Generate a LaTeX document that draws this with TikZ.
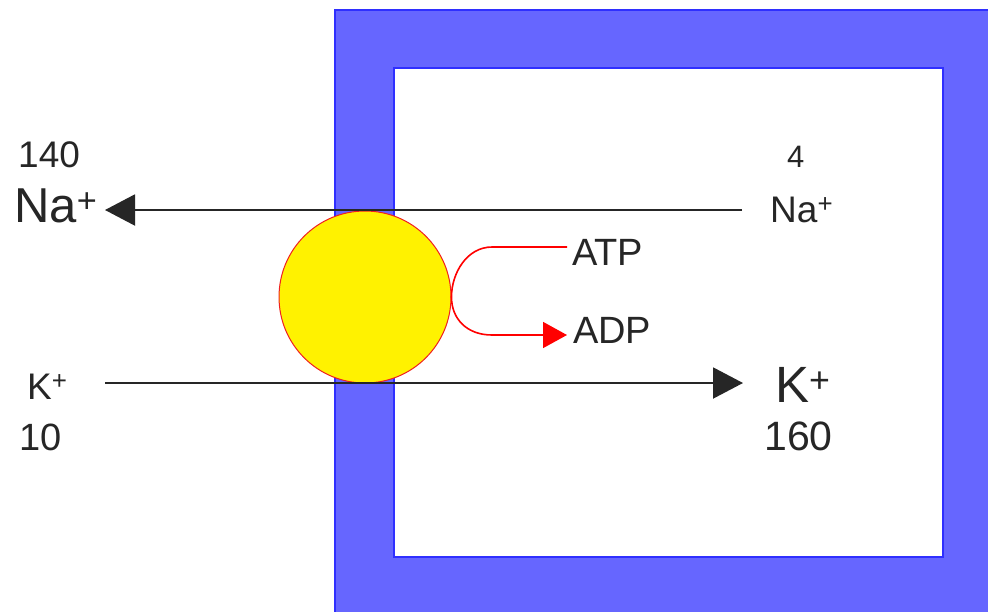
\documentclass[tikz,border=0pt]{standalone}
\usepackage{fontspec}
\setmainfont{Liberation Sans}
\usetikzlibrary{arrows.meta}
\definecolor{bandblue}{HTML}{6666FF}
\definecolor{edgeblue}{HTML}{2F2FFF}
\definecolor{pumpred}{HTML}{F02020}
\begin{document}
\begin{tikzpicture}[x=1pt,y=-1pt,
  lbl/.style={inner sep=0pt,anchor=base west,text=black!85},
  flux/.style={line width=2pt,draw=black!85,-{Triangle[length=30pt,width=31pt]}},
  energy/.style={line width=1.6pt,draw=red,-{Triangle[length=24pt,width=26pt]}},
  fs/.style={font=\fontsize{#1}{#1}\selectfont}]
\useasboundingbox (0,0) rectangle (988,611);
\fill[white] (0,0) rectangle (988,611);
% membrane (cell)
\filldraw[fill=bandblue,draw=edgeblue,line width=1.5pt] (335,10) rectangle (1000,625);
\filldraw[fill=white,draw=edgeblue,line width=1.5pt] (394,68) rectangle (943,557);
% pump
\node[circle,draw=pumpred,line width=1pt,fill=yellow,minimum size=172pt,inner sep=0pt] (pump) at (365,297) {};
% labels
\node[lbl,fs=37] (nao) at (18,167) {140};
\node[lbl,fs=49] (naL) at (14,222) {Na\textsuperscript{+}};
\node[lbl,fs=31] (nai) at (787,167) {4};
\node[lbl,fs=37] (naR) at (770,222) {Na\textsuperscript{+}};
\node[lbl,fs=37] (kL) at (27,399) {K\textsuperscript{+}};
\node[lbl,fs=38] (ko) at (19,450) {10};
\node[lbl,fs=51] (kR) at (775,402) {K\textsuperscript{+}};
\node[lbl,fs=41] (ki) at (764,450) {160};
\node[lbl,fs=38] (atp) at (572,265) {ATP};
\node[lbl,fs=38] (adp) at (573,343) {ADP};
% flux arrows
\coordinate (naStart) at (742,210);
\coordinate (naEnd) at (105,210);
\coordinate (kStart) at (105,383);
\coordinate (kEnd) at (743,383);
\draw[flux] (naStart) -- (naEnd);
\draw[flux] (kStart) -- (kEnd);
% ATP -> ADP
\coordinate (atpEnd) at (567,247);
\coordinate (adpEnd) at (567,335);
\draw[energy] (atpEnd) -- (492,247) .. controls (467,247) and ([yshift=24pt]pump.east) .. (pump.east)
  .. controls ([yshift=-22pt]pump.east) and (467,335) .. (492,335) -- (adpEnd);
\end{tikzpicture}
\end{document}
